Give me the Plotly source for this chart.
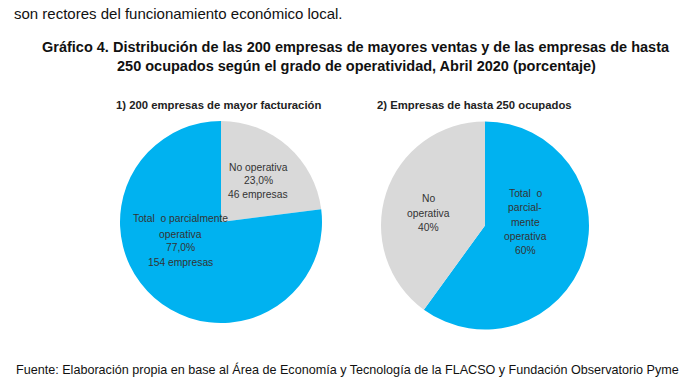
import plotly.graph_objects as go

# Data
pie1_labels = ["No operativa", "Total o parcialmente operativa"]
pie1_values = [23.0, 77.0]
pie1_firms = [46, 154]
pie2_labels = ["Total o parcialmente operativa", "No operativa"]
pie2_values = [60, 40]

BLUE = "#00B2F0"
GRAY = "#D9D9D9"
FONT = "Liberation Sans, Arial, sans-serif"

W, H = 680, 387


def px(x):
    return x / W


def py(y):
    return 1 - y / H


fig = go.Figure()

fig.add_trace(go.Pie(
    labels=pie1_labels, values=pie1_values, sort=False, direction="clockwise",
    rotation=0, textinfo="none", hoverinfo="label+percent",
    marker=dict(colors=[GRAY, BLUE], line=dict(width=0)),
    domain=dict(x=[px(120), px(322)], y=[py(323), py(121)]),
    showlegend=False,
))
fig.add_trace(go.Pie(
    labels=pie2_labels, values=pie2_values, sort=False, direction="clockwise",
    rotation=0, textinfo="none", hoverinfo="label+percent",
    marker=dict(colors=[BLUE, GRAY], line=dict(width=0)),
    domain=dict(x=[px(381), px(589)], y=[py(330), py(121)]),
    showlegend=False,
))

ann = []


def add(text, x, y, size, bold=False, color="#222", xanchor="center"):
    if bold:
        text = "<b>" + text + "</b>"
    ann.append(dict(text=text, x=px(x), y=py(y), xref="paper", yref="paper",
                    xanchor=xanchor, yanchor="middle", align="center", showarrow=False,
                    font=dict(family=FONT, size=size, color=color)))


def add_lines(lines, x, ys, size=10.3, color="#333"):
    for line, y in zip(lines, ys):
        add(line, x, y, size, color=color)


def pct(v, dec=1):
    return f"{v:.{dec}f}%".replace(".", ",")


add("son rectores del funcionamiento económico local.", 12, 14, 15, xanchor="left", color="#111")
add("Gráfico 4. Distribución de las 200 empresas de mayores ventas y de las empresas de hasta", 356, 47, 14.5, bold=True, color="#111")
add("250 ocupados según el grado de operatividad, Abril 2020 (porcentaje)", 356, 66, 14.5, bold=True, color="#111")
add("1) 200 empresas de mayor facturación", 218, 105, 11.3, bold=True, color="#222")
add("2) Empresas de hasta 250 ocupados", 474, 105, 11.3, bold=True, color="#222")

add_lines([pie1_labels[0], pct(pie1_values[0]), f"{pie1_firms[0]} empresas"],
          258, [167, 180.5, 194])
add_lines(["Total  o parcialmente", "operativa", pct(pie1_values[1]), f"{pie1_firms[1]} empresas"],
          180, [218, 234, 248, 262])
add_lines(["No", "operativa", f"{pie2_values[1]}%"], 428, [198, 213, 227])
add_lines(["Total  o", "parcial-", "mente", "operativa", f"{pie2_values[0]}%"],
          525, [193, 207.5, 222, 236, 250])

add("Fuente: Elaboración propia en base al Área de Economía y Tecnología de la FLACSO y Fundación Observatorio Pyme",
    14, 369, 12.6, xanchor="left", color="#111")

fig.update_layout(
    width=W, height=H, margin=dict(l=0, r=0, t=0, b=0),
    paper_bgcolor="white", plot_bgcolor="white",
    annotations=ann,
)

fig.write_html("out.html", config={"displayModeBar": False},
               post_script="document.body.style.margin='0';document.body.style.padding='0';")
